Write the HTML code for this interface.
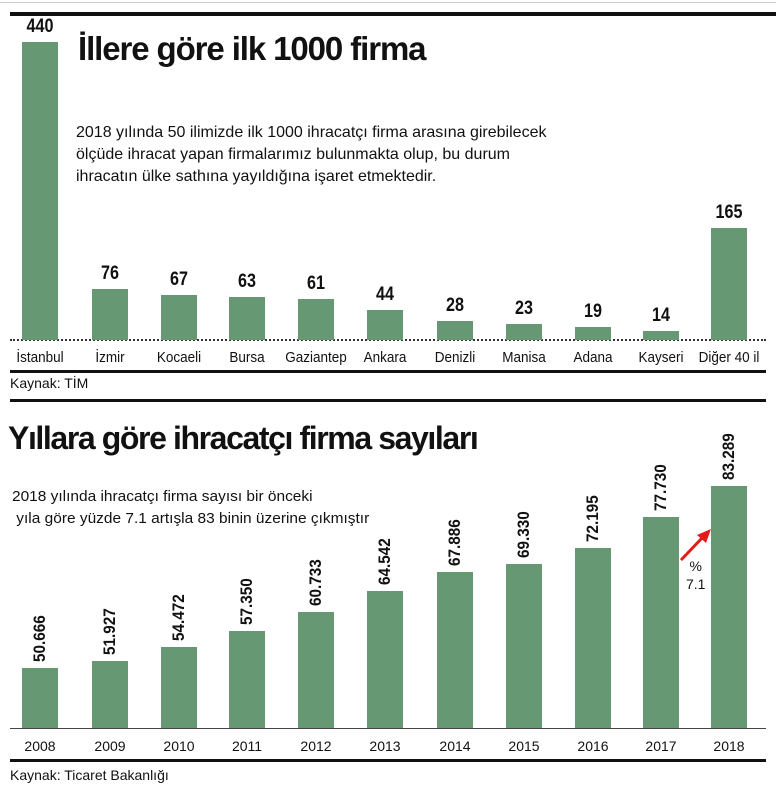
<!DOCTYPE html><html><head><meta charset="utf-8"><style>
body{margin:0;background:#fff;font-family:"Liberation Sans",sans-serif;color:#111}
#c{position:relative;width:776px;height:790px;overflow:hidden}
.a{position:absolute}
.bar{position:absolute;background:#669874;width:36px}
.v{position:absolute;font-weight:bold;font-size:19px;width:60px;text-align:center;transform:scaleX(.85)}
.l{position:absolute;font-size:15px;width:80px;text-align:center;top:349px;transform:scaleX(.9)}
.y{position:absolute;font-size:14px;width:60px;text-align:center;top:738px}
.r{position:absolute;font-weight:bold;font-size:17px;transform-origin:0 0;transform:rotate(-90deg) scaleX(.9);white-space:nowrap}
</style></head><body><div id="c">
<div class="a" style="left:0;top:2px;width:776px;height:1px;background:#ccc"></div>
<div class="a" style="left:10px;top:12px;width:766px;height:4px;background:#111"></div>
<div class="a" style="left:78px;top:30px;font-size:33px;font-weight:bold;letter-spacing:-1.1px">İllere göre ilk 1000 firma</div>
<div class="a" style="left:76px;top:122px;font-size:16px;line-height:22px;transform:scaleX(1);transform-origin:0 0;white-space:nowrap">2018 yılında 50 ilimizde ilk 1000 ihracatçı firma arasına girebilecek<br>ölçüde ihracat yapan firmalarımız bulunmakta olup, bu durum<br>ihracatın ülke sathına yayıldığına işaret etmektedir.</div>
<div class="a" style="left:10px;top:339px;width:756px;border-top:2px dotted #333"></div>
<div class="a" style="left:10px;top:370px;width:756px;height:3px;background:#111"></div>
<div class="a" style="left:10px;top:375px;font-size:14px">Kaynak: TİM</div>
<div class="a" style="left:10px;top:399px;width:756px;height:3px;background:#111"></div>
<div class="a" style="left:8px;top:420px;font-size:32px;font-weight:bold;letter-spacing:-1.4px">Yıllara göre ihracatçı firma sayıları</div>
<div class="a" style="left:12px;top:486px;font-size:15px;line-height:22px;transform:scaleX(1.03);transform-origin:0 0;white-space:nowrap">2018 yılında ihracatçı firma sayısı bir önceki<br>&nbsp;yıla göre yüzde 7.1 artışla 83 binin üzerine çıkmıştır</div>
<div class="a" style="left:10px;top:728px;width:756px;height:1px;background:#444"></div>
<div class="a" style="left:10px;top:759px;width:756px;height:3px;background:#111"></div>
<div class="a" style="left:10px;top:767px;font-size:14px">Kaynak: Ticaret Bakanlığı</div>
<svg class="a" style="left:0;top:0" width="776" height="790"><line x1="681" y1="560" x2="703" y2="537" stroke="#e41b1b" stroke-width="3"/><polygon points="711,529 697,535 706,543" fill="#e41b1b"/></svg>
<div class="a" style="left:686px;top:557px;font-size:14px;text-align:center;line-height:18px">%<br>7.1</div>
<div id="t"></div>
</div>
<script>
(function(){
var xs=[22,92,161,229,298,367,437,506,575,643,711];
var tv=[440,76,67,63,61,44,28,23,19,14,165];
var tl=["İstanbul","İzmir","Kocaeli","Bursa","Gaziantep","Ankara","Denizli","Manisa","Adana","Kayseri","Diğer 40 il"];
var bv=[50666,51927,54472,57350,60733,64542,67886,69330,72195,77730,83289];
var h="";
for(var i=0;i<11;i++){var x=xs[i];var hh=tv[i]*0.677;var tp=340-hh;
h+='<div class="bar" style="left:'+x+'px;top:'+tp+'px;height:'+hh+'px"></div>';
h+='<div class="v" style="left:'+(x-12)+'px;top:'+(tp-26)+'px">'+tv[i]+'</div>';
h+='<div class="l" style="left:'+(x-22)+'px">'+tl[i]+'</div>';
var bh=60+(bv[i]-50666)*0.005579;var bt=728-bh;
h+='<div class="bar" style="left:'+x+'px;top:'+bt+'px;height:'+bh+'px"></div>';
var s=String(bv[i]);s=s.slice(0,2)+"."+s.slice(2);
h+='<div class="r" style="left:'+(x+8)+'px;top:'+(bt-6)+'px">'+s+'</div>';
h+='<div class="y" style="left:'+(x-12)+'px">'+(2008+i)+'</div>';}
document.getElementById("t").innerHTML=h;
})();
</script></body></html>
